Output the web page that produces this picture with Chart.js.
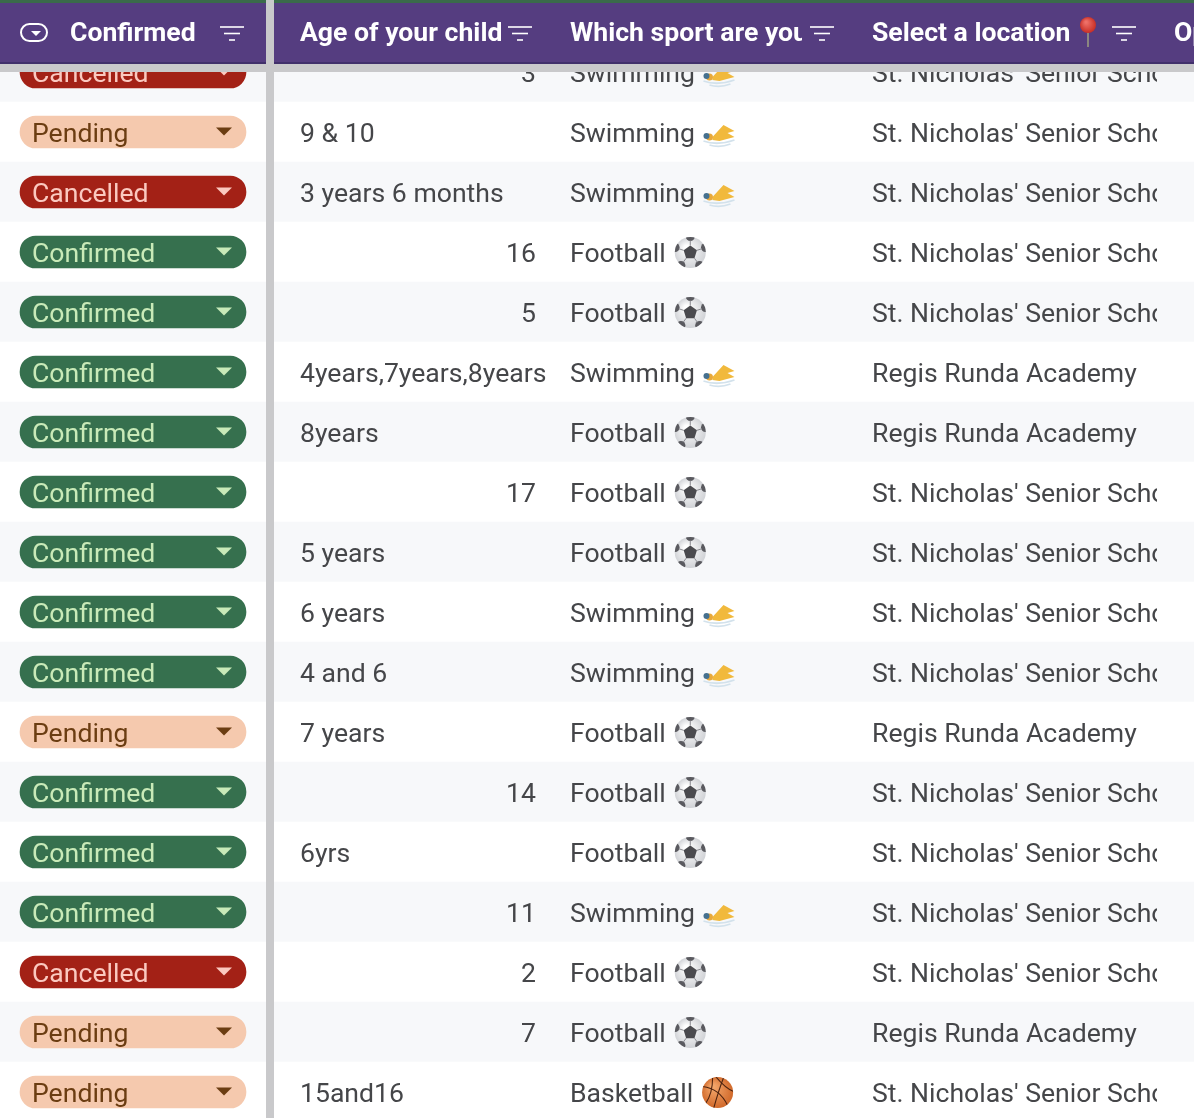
<!DOCTYPE html>
<html>
<head>
<meta charset="utf-8">
<title>Bookings table</title>
<style>
  html, body { margin: 0; padding: 0; background: #fff; }
  #wrap { position: relative; width: 1194px; height: 1118px; overflow: hidden; }
  canvas { display: block; }
</style>
<script src="https://cdn.jsdelivr.net/npm/chart.js@4/dist/chart.umd.min.js"></script>
</head>
<body>
<div id="wrap"><canvas id="table" width="1194" height="1118"></canvas></div>
<script>
// table content, top to bottom (first row sits half under the header)
const statuses = ["Cancelled", "Pending", "Cancelled", "Confirmed", "Confirmed", "Confirmed", "Confirmed", "Confirmed", "Confirmed", "Confirmed", "Confirmed", "Pending", "Confirmed", "Confirmed", "Confirmed", "Cancelled", "Pending", "Pending"];
const ages = [3, "9 & 10", "3 years 6 months", 16, 5, "4years,7years,8years", "8years", 17, "5 years", "6 years", "4 and 6", "7 years", 14, "6yrs", 11, 2, 7, "15and16"];
const sports = ["Swimming", "Swimming", "Swimming", "Football", "Football", "Swimming", "Football", "Football", "Football", "Swimming", "Swimming", "Football", "Football", "Football", "Swimming", "Football", "Football", "Basketball"];
const locations = ["St. Nicholas' Senior School", "St. Nicholas' Senior School", "St. Nicholas' Senior School", "St. Nicholas' Senior School", "St. Nicholas' Senior School", "Regis Runda Academy", "Regis Runda Academy", "St. Nicholas' Senior School", "St. Nicholas' Senior School", "St. Nicholas' Senior School", "St. Nicholas' Senior School", "Regis Runda Academy", "St. Nicholas' Senior School", "St. Nicholas' Senior School", "St. Nicholas' Senior School", "St. Nicholas' Senior School", "Regis Runda Academy", "St. Nicholas' Senior School"];
const headers = ["Confirmed", "Age of your child", "Which sport are you", "Select a location", "Options"];

const rows = statuses.map((s, i) => i);

const pillColors = { Pending: "#f5c9ae", Cancelled: "#a32116", Confirmed: "#36704e" };
const pillText = { Pending: "#6b3d12", Cancelled: "#fbc9c0", Confirmed: "#c9eab8" };
const FONT = "Roboto, sans-serif";

function clipped(ctx, x, y, w, h, fn) {
  ctx.save();
  ctx.beginPath();
  ctx.rect(x, y, w, h);
  ctx.clip();
  fn();
  ctx.restore();
}

function drawFootball(ctx, cx, cy) {
  const grad = ctx.createRadialGradient(cx - 4, cy - 5, 2, cx, cy, 16);
  grad.addColorStop(0, "#ffffff");
  grad.addColorStop(1, "#cfd1d5");
  ctx.fillStyle = grad;
  ctx.beginPath();
  ctx.arc(cx, cy, 15.5, 0, Math.PI * 2);
  ctx.fill();
  ctx.fillStyle = "#4a4a4e";
  ctx.beginPath();
  for (let i = 0; i < 5; i++) {
    const a = -Math.PI / 2 + i * Math.PI * 2 / 5;
    ctx.lineTo(cx + 7 * Math.cos(a), cy + 7 * Math.sin(a));
  }
  ctx.closePath();
  ctx.fill();
  // the outer patches, cut to the ball edge
  ctx.save();
  ctx.beginPath();
  ctx.arc(cx, cy, 15.5, 0, Math.PI * 2);
  ctx.clip();
  for (let i = 0; i < 5; i++) {
    const a = -Math.PI / 2 + i * Math.PI * 2 / 5;
    ctx.fillStyle = "#5a5a5f";
    ctx.beginPath();
    ctx.arc(cx + 16 * Math.cos(a), cy + 16 * Math.sin(a), 4.5, 0, Math.PI * 2);
    ctx.fill();
    ctx.strokeStyle = "#8a8a90";
    ctx.lineWidth = 1;
    ctx.beginPath();
    ctx.moveTo(cx + 7 * Math.cos(a), cy + 7 * Math.sin(a));
    ctx.lineTo(cx + 12 * Math.cos(a), cy + 12 * Math.sin(a));
    ctx.stroke();
  }
  ctx.restore();
}

function drawBasketball(ctx, cx, cy) {
  const grad = ctx.createRadialGradient(cx - 5, cy - 6, 2, cx, cy, 17);
  grad.addColorStop(0, "#f2a468");
  grad.addColorStop(1, "#cf6526");
  ctx.fillStyle = grad;
  ctx.beginPath();
  ctx.arc(cx, cy, 15.5, 0, Math.PI * 2);
  ctx.fill();
  ctx.save();
  ctx.beginPath();
  ctx.arc(cx, cy, 15.5, 0, Math.PI * 2);
  ctx.clip();
  ctx.strokeStyle = "#4f2410";
  ctx.lineWidth = 1.1;
  ctx.beginPath();
  ctx.moveTo(cx - 15, cy - 6);
  ctx.quadraticCurveTo(cx + 2, cy - 4, cx + 10, cy + 13);
  ctx.moveTo(cx - 5, cy - 15);
  ctx.quadraticCurveTo(cx - 5, cy + 1, cx - 12, cy + 11);
  ctx.moveTo(cx + 6, cy - 15);
  ctx.quadraticCurveTo(cx + 1, cy - 2, cx - 4, cy + 16);
  ctx.moveTo(cx - 2, cy - 16);
  ctx.quadraticCurveTo(cx + 8, cy - 4, cx + 16, cy - 1);
  ctx.stroke();
  ctx.restore();
}

function drawSwimmer(ctx, cx, cy) {
  // water
  ctx.strokeStyle = "#d3e2ec";
  ctx.lineWidth = 1.8;
  ctx.beginPath();
  ctx.moveTo(cx - 16, cy + 8);
  ctx.quadraticCurveTo(cx - 2, cy + 13, cx + 15, cy + 7);
  ctx.moveTo(cx - 10, cy + 12);
  ctx.quadraticCurveTo(cx, cy + 15, cx + 11, cy + 11);
  ctx.stroke();
  // bent arm and body
  ctx.fillStyle = "#f1b93c";
  ctx.beginPath();
  ctx.moveTo(cx - 7, cy + 4);
  ctx.lineTo(cx + 4, cy - 8);
  ctx.lineTo(cx + 15, cy - 2);
  ctx.lineTo(cx + 8, cy);
  ctx.lineTo(cx + 15, cy + 4);
  ctx.lineTo(cx, cy + 8);
  ctx.lineTo(cx - 7, cy + 7);
  ctx.closePath();
  ctx.fill();
  // head with cap
  ctx.fillStyle = "#e8a93a";
  ctx.beginPath();
  ctx.arc(cx - 10, cy + 4, 3.5, 0, Math.PI * 2);
  ctx.fill();
  ctx.fillStyle = "#45708f";
  ctx.beginPath();
  ctx.arc(cx - 13, cy + 3, 3, 0, Math.PI * 2);
  ctx.fill();
}

function drawPin(ctx, cx, top) {
  ctx.strokeStyle = "#8b8680";
  ctx.lineWidth = 2;
  ctx.beginPath();
  ctx.moveTo(cx, top + 12);
  ctx.lineTo(cx, top + 30);
  ctx.stroke();
  const grad = ctx.createRadialGradient(cx - 2, top + 5, 1, cx, top + 8, 9);
  grad.addColorStop(0, "#ee7068");
  grad.addColorStop(1, "#c4281f");
  ctx.fillStyle = grad;
  ctx.beginPath();
  ctx.arc(cx, top + 8, 8, 0, Math.PI * 2);
  ctx.fill();
}

function drawFilterIcon(ctx, x, y) {
  ctx.strokeStyle = "#ffffff";
  ctx.lineWidth = 1.6;
  [[0, 24, 0], [4, 16, 6.5], [9, 6, 13]].forEach(function (l) {
    ctx.beginPath();
    ctx.moveTo(x + l[0], y + l[2]);
    ctx.lineTo(x + l[0] + l[1], y + l[2]);
    ctx.stroke();
  });
}

const tablePlugin = {
  id: "tablePlugin",
  afterDatasetsDraw(chart) {
    const ctx = chart.ctx;
    const xs = chart.scales.x;
    const ys = chart.scales.y;
    const px = (v) => xs.getPixelForValue(v);
    const py = (v) => ys.getPixelForValue(v);

    ctx.save();
    ctx.textBaseline = "middle";

    rows.forEach(function (i) {
      const y = py(i);
      const st = statuses[i];

      // status text and caret on the pill
      ctx.font = "400 26.6px " + FONT;
      ctx.textAlign = "left";
      ctx.fillStyle = pillText[st];
      ctx.fillText(st, px(32), y + 3);
      ctx.beginPath();
      ctx.moveTo(px(216), y - 4.5);
      ctx.lineTo(px(232), y - 4.5);
      ctx.lineTo(px(224), y + 3.5);
      ctx.closePath();
      ctx.fill();

      ctx.fillStyle = "#454649";
      // age: numbers right aligned like a number cell
      if (typeof ages[i] === "number") {
        ctx.textAlign = "right";
        ctx.fillText(String(ages[i]), px(536), y + 3);
        ctx.textAlign = "left";
      } else {
        ctx.fillText(ages[i], px(300), y + 3);
      }

      // sport plus its icon
      ctx.fillText(sports[i], px(570), y + 3);
      const w = ctx.measureText(sports[i]).width;
      const iconX = px(570) + w + 24.5;
      if (sports[i] === "Football") drawFootball(ctx, iconX, y + 0.5);
      else if (sports[i] === "Basketball") drawBasketball(ctx, iconX, y + 0.5);
      else drawSwimmer(ctx, iconX, y + 1);

      clipped(ctx, px(860), y - 30, 297, 60, function () {
        ctx.fillStyle = "#454649";
        ctx.fillText(locations[i], px(872), y + 3);
      });
    });

    // frozen header over the first row
    ctx.fillStyle = "#c9c9cb";
    ctx.fillRect(0, 64, 1194, 8);
    ctx.fillRect(266, 0, 8, 1118);
    ctx.fillStyle = "#553d80";
    ctx.fillRect(0, 3, 266, 59);
    ctx.fillRect(274, 3, 920, 59);
    ctx.fillStyle = "#41306b";
    ctx.fillRect(0, 62, 266, 2);
    ctx.fillRect(274, 62, 920, 2);
    ctx.fillStyle = "#3a6b4a";
    ctx.fillRect(0, 0, 266, 3);
    ctx.fillRect(274, 0, 920, 3);

    // header icon: small dropdown pill
    ctx.strokeStyle = "#ffffff";
    ctx.lineWidth = 2;
    ctx.beginPath();
    ctx.roundRect(21, 24, 26, 17, 8.5);
    ctx.stroke();
    ctx.fillStyle = "#ffffff";
    ctx.beginPath();
    ctx.moveTo(31, 31);
    ctx.lineTo(41, 31);
    ctx.lineTo(36, 36);
    ctx.closePath();
    ctx.fill();

    ctx.font = "700 26.6px " + FONT;
    ctx.textAlign = "left";
    ctx.fillStyle = "#ffffff";
    ctx.fillText(headers[0], 70, 34);
    clipped(ctx, 290, 3, 211, 59, () => ctx.fillText(headers[1], 300, 34));
    clipped(ctx, 560, 3, 242, 59, () => ctx.fillText(headers[2], 570, 34));
    ctx.fillText(headers[3], 872, 34);
    ctx.fillText(headers[4], 1174, 34);
    drawPin(ctx, 1088, 17);
    drawFilterIcon(ctx, 220, 27);
    drawFilterIcon(ctx, 508, 27);
    drawFilterIcon(ctx, 810, 27);
    drawFilterIcon(ctx, 1112, 27);
    ctx.restore();
  },
};

const rowBand = rows.map((i) => ({ x: [0, 1194], y: i }));
const pills = rows.map((i) => ({ x: [20, 246], y: i }));

new Chart(document.getElementById("table"), {
  type: "bar",
  data: {
    datasets: [
      {
        label: "rows",
        data: rowBand,
        backgroundColor: rows.map((i) => (i % 2 ? "#ffffff" : "#f7f8fa")),
        barThickness: 60,
        grouped: false,
        order: 2,
      },
      {
        label: "status",
        data: pills,
        backgroundColor: rows.map((i) => pillColors[statuses[i]]),
        barThickness: 32,
        borderRadius: 16,
        borderSkipped: false,
        grouped: false,
        order: 1,
      },
    ],
  },
  options: {
    indexAxis: "y",
    responsive: false,
    animation: false,
    layout: { padding: 0 },
    plugins: { legend: { display: false }, tooltip: { enabled: false } },
    scales: {
      x: { type: "linear", min: 0, max: 1194, display: false },
      // 60px per row, first row centred at y=72
      y: { type: "linear", reverse: true, offset: false, min: -1.2, max: 17.4333, display: false },
    },
  },
  plugins: [tablePlugin],
});
</script>
</body>
</html>
